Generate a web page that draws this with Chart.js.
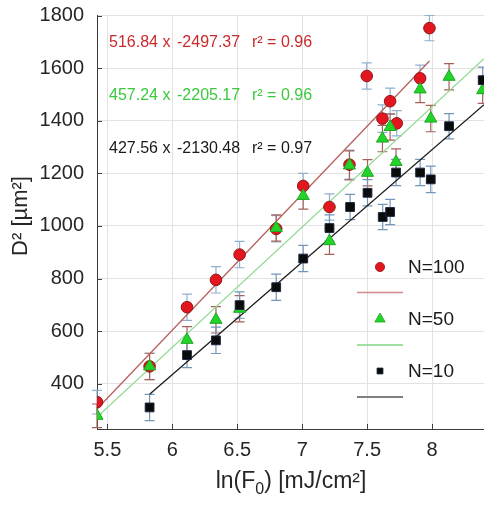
<!DOCTYPE html>
<html><head><meta charset="utf-8">
<script src="https://cdn.jsdelivr.net/npm/chart.js@4/dist/chart.umd.min.js"></script>
<style>html,body{margin:0;padding:0;background:#fff;}</style>
</head><body>
<canvas id="c" width="484" height="505" style="display:block;width:484px;height:505px"></canvas>
<script>
// ---- data ----
const xTicks = [5.5, 6, 6.5, 7, 7.5, 8];
const yTicks = [400, 600, 800, 1000, 1200, 1400, 1600, 1800];

const n100X   = [5.42, 5.825, 6.113, 6.336, 6.518, 6.80, 7.008, 7.21, 7.364, 7.497, 7.618, 7.677, 7.728, 7.908, 7.98];
const n100Y   = [330, 466, 691, 795, 891, 989, 1152, 1072, 1233, 1570, 1408, 1474, 1390, 1561, 1752];
const n100Err = [45, 50, 50, 50, 50, 50, 48, 50, 55, 50, 52, 50, 48, 50, 48];

const n50X   = [5.42, 5.825, 6.113, 6.336, 6.518, 6.80, 7.008, 7.21, 7.364, 7.503, 7.618, 7.677, 7.723, 7.908, 7.99, 8.131, 8.39];
const n50Y   = [278, 466, 567, 643, 685, 992, 1114, 942, 1230, 1202, 1332, 1376, 1243, 1519, 1408, 1567, 1516];
const n50Err = [45, 50, 50, 50, 50, 50, 50, 50, 55, 50, 50, 50, 50, 50, 50, 50, 50];

const n10X   = [5.825, 6.113, 6.336, 6.518, 6.80, 7.008, 7.21, 7.369, 7.503, 7.62, 7.677, 7.723, 7.908, 7.99, 8.131, 8.39];
const n10Y   = [310, 509, 565, 699, 767, 876, 992, 1072, 1126, 1034, 1053, 1203, 1203, 1177, 1379, 1554];
const n10Err = [50, 48, 50, 50, 50, 50, 50, 48, 50, 48, 48, 50, 50, 50, 48, 50];

const seriesNames  = ['N=100', 'N=50', 'N=10'];
const fitSlope     = [516.84, 457.24, 427.56];
const fitIntercept = [-2497.37, -2205.17, -2130.48];
const fitR2        = [0.96, 0.96, 0.97];
const fitXStart    = [5.42, 5.42, 5.825];
const fitXEnd      = [7.98, 8.4, 8.4];

// ---- styles ----
const markerFill   = ['#e3161f', '#22d428', '#0a0a0a'];
const markerEdge   = ['#8e1616', '#1fa824', '#1b2740'];
const markerStyle  = ['circle', 'triangle', 'rect'];
const markerRadius = [5.8, 7, 6.2];
const errColor     = ['#8fb0cf', '#a5605a', '#7397b9'];
const fitColor     = ['#b9605e', '#8fd98f', '#1a1a1a'];
const textColor    = ['#c92a2c', '#3cc83c', '#1a1a1a'];
const legendLine   = ['#d48b8b', '#85d685', '#808080'];

const pts = (xs, ys) => xs.map((x, i) => ({x: x, y: ys[i]}));
const seriesX = [n100X, n50X, n10X];
const seriesY = [n100Y, n50Y, n10Y];
const seriesE = [n100Err, n50Err, n10Err];

const datasets = [];
// draw order: index 0 on top -> black, green, red, then lines
[2, 1, 0].forEach(s => {
  datasets.push({
    label: seriesNames[s], type: 'scatter', data: pts(seriesX[s], seriesY[s]),
    pointStyle: markerStyle[s], pointRadius: markerRadius[s], pointHoverRadius: markerRadius[s],
    backgroundColor: markerFill[s], borderColor: markerEdge[s], borderWidth: 1,
    showLine: false
  });
});
[0, 1, 2].forEach(s => {
  datasets.push({
    label: 'fit ' + seriesNames[s], type: 'line',
    data: [fitXStart[s], fitXEnd[s]].map(x => ({x: x, y: fitSlope[s] * x + fitIntercept[s]})),
    borderColor: fitColor[s], borderWidth: 1.3, pointRadius: 0, fill: false, tension: 0
  });
});

const FONT = "'Liberation Sans', Arial, Helvetica, sans-serif";

const errorBars = {
  id: 'errorBars',
  beforeDatasetsDraw(chart) {
    const {ctx, scales: {x, y}} = chart;
    ctx.save();
    [0, 1, 2].forEach(s => {
      ctx.strokeStyle = errColor[s];
      ctx.lineWidth = 1.2;
      seriesX[s].forEach((xv, i) => {
        const px = x.getPixelForValue(xv);
        const y1 = y.getPixelForValue(seriesY[s][i] - seriesE[s][i]);
        const y2 = y.getPixelForValue(seriesY[s][i] + seriesE[s][i]);
        ctx.beginPath();
        ctx.moveTo(px, y1); ctx.lineTo(px, y2);
        ctx.moveTo(px - 5, y1); ctx.lineTo(px + 5, y1);
        ctx.moveTo(px - 5, y2); ctx.lineTo(px + 5, y2);
        ctx.stroke();
      });
    });
    ctx.restore();
  }
};

const decorations = {
  id: 'decorations',
  afterDraw(chart) {
    const {ctx, chartArea: a, scales: {x, y}} = chart;
    ctx.save();
    // inward tick marks
    ctx.strokeStyle = '#404040'; ctx.lineWidth = 1;
    ctx.beginPath();
    xTicks.forEach(v => { const p = Math.round(x.getPixelForValue(v)) + 0.5; ctx.moveTo(p, a.bottom); ctx.lineTo(p, a.bottom - 5); });
    yTicks.forEach(v => { const p = Math.round(y.getPixelForValue(v)) + 0.5; ctx.moveTo(a.left, p); ctx.lineTo(a.left + 5, p); });
    ctx.stroke();

    // fit annotations
    ctx.font = '16px ' + FONT;
    ctx.textBaseline = 'middle';
    ctx.textAlign = 'left';
    const rows = [43, 96, 149];
    [0, 1, 2].forEach(s => {
      ctx.fillStyle = textColor[s];
      ctx.fillText(fitSlope[s].toFixed(2) + ' x', 109, rows[s]);
      ctx.fillText(fitIntercept[s].toFixed(2), 177, rows[s]);
      ctx.fillText('r\u00B2 = ' + fitR2[s].toFixed(2), 252, rows[s]);
    });

    // legend
    const legY = [267, 319, 371];
    const lineY = [292.5, 345, 397];
    const legR = [4.6, 6, 4.2];
    [0, 1, 2].forEach(s => {
      ctx.fillStyle = markerFill[s]; ctx.strokeStyle = markerEdge[s];
      ctx.lineWidth = 0.8;
      Chart.helpers.drawPoint(ctx, {pointStyle: markerStyle[s], radius: legR[s], borderWidth: 0.8, rotation: 0}, 380, legY[s]);
      ctx.fillStyle = '#1a1a1a';
      ctx.font = '19px ' + FONT;
      ctx.textAlign = 'left';
      ctx.fillText(seriesNames[s], 408, legY[s] + 1);
      ctx.strokeStyle = legendLine[s];
      ctx.lineWidth = s === 2 ? 2 : 1.5;
      ctx.beginPath(); ctx.moveTo(357, lineY[s]); ctx.lineTo(403, lineY[s]); ctx.stroke();
    });

    // axis titles
    ctx.fillStyle = '#262626';
    ctx.textBaseline = 'alphabetic';
    const big = '23px ' + FONT, small = '16px ' + FONT;
    const parts = [['ln(F', big, 0], ['0', small, 6], [') [mJ/cm\u00B2]', big, 0]];
    let total = 0;
    parts.forEach(p => { ctx.font = p[1]; total += ctx.measureText(p[0]).width; });
    let cx = 291 - total / 2;
    parts.forEach(p => { ctx.font = p[1]; ctx.fillText(p[0], cx, 488 + p[2]); cx += ctx.measureText(p[0]).width; });

    ctx.translate(21, 216);
    ctx.rotate(-Math.PI / 2);
    ctx.font = '22px ' + FONT;
    ctx.textAlign = 'center';
    ctx.textBaseline = 'middle';
    ctx.fillText('D\u00B2 [\u00B5m\u00B2]', 0, 0);
    ctx.restore();
  }
};

new Chart(document.getElementById('c'), {
  type: 'scatter',
  data: {datasets: datasets},
  options: {
    responsive: false, animation: false, devicePixelRatio: 1,
    layout: {autoPadding: false, padding: {top: 15.5, right: 0, left: 0, bottom: 0}},
    plugins: {legend: {display: false}, tooltip: {enabled: false}},
    scales: {
      x: {
        type: 'linear', min: 5.42, max: 8.4,
        afterBuildTicks: s => { s.ticks = xTicks.map(v => ({value: v})); },
        afterFit: s => { s.height = 76; s.paddingLeft = 0; s.paddingRight = 0; },
        ticks: {font: {size: 20, family: FONT}, color: '#262626', padding: 9, maxRotation: 0,
                callback: v => String(v)},
        grid: {color: '#e2e2e2', drawTicks: false},
        border: {color: '#3a3a3a', width: 1}
      },
      y: {
        type: 'linear', min: 228, max: 1800,
        afterBuildTicks: s => { s.ticks = yTicks.map(v => ({value: v})); },
        afterFit: s => { s.width = 97; s.paddingTop = 0; s.paddingBottom = 0; },
        ticks: {font: {size: 20, family: FONT}, color: '#262626', padding: 13,
                callback: v => String(v)},
        grid: {color: '#e2e2e2', drawTicks: false},
        border: {color: '#3a3a3a', width: 1}
      }
    }
  },
  plugins: [errorBars, decorations]
});
</script>
</body></html>
